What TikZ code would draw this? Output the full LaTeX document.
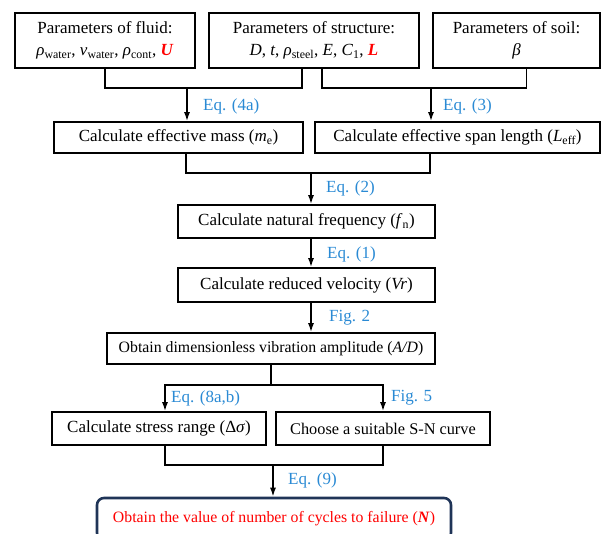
\documentclass[tikz,border=0pt]{standalone}
\usepackage{fontspec}
\setmainfont{Liberation Serif}
\usetikzlibrary{arrows.meta}
\definecolor{eqblue}{HTML}{2A8AD4}
\definecolor{navy}{HTML}{1F3457}
\newcommand{\vi}[1]{\textit{#1}}
\newcommand{\sub}[1]{\textsubscript{#1}}

\begin{document}
\begin{tikzpicture}[
    x=1pt, y=-1pt,
    box/.style={rectangle, draw, line width=1.6pt, inner sep=0pt,
                align=center, font=\fontsize{17}{22}\selectfont},
    lbl/.style={text=eqblue, font=\fontsize{17}{21}\selectfont, anchor=west},
    arr/.style={-{Latex[length=9pt,width=6pt]}, line width=1.6pt},
    ln/.style={line width=1.6pt}
]
    \useasboundingbox (0,0) rectangle (602,534);
    \clip (0,0) rectangle (602,534);

    \node[box, minimum width=180pt, minimum height=55pt] (fluid) at (105,40.5)
        {Parameters of fluid:\\\vi{ρ}\sub{water}, \vi{v}\sub{water}, \vi{ρ}\sub{cont}, \textcolor{red}{\textbf{\textit{U}}}};
    \node[box, minimum width=210pt, minimum height=55pt] (struct) at (314,40.5)
        {Parameters of structure:\\\vi{D}, \vi{t}, \vi{ρ}\sub{steel}, \vi{E}, \vi{C}\sub{1}, \textcolor{red}{\textbf{\textit{L}}}};
    \node[box, minimum width=167pt, minimum height=55pt] (soil) at (516.5,40.5)
        {Parameters of soil:\\\vi{β}};

    \node[box, minimum width=249pt, minimum height=31pt] (mass) at (178.5,137.5)
        {Calculate effective mass (\vi{m}\sub{e})};
    \node[box, minimum width=285pt, minimum height=31pt] (span) at (457.5,137.5)
        {Calculate effective span length (\vi{L}\sub{eff})};

    \node[box, minimum width=257pt, minimum height=33pt] (freq) at (306.5,221.5)
        {Calculate natural frequency (\vi{f}\sub{n})};
    \node[box, minimum width=257pt, minimum height=34pt] (vel) at (306.5,285)
        {Calculate reduced velocity (\vi{Vr})};
    \node[box, minimum width=328pt, minimum height=31pt, font=\fontsize{15.8}{20}\selectfont] (amp) at (271,348.5)
        {Obtain dimensionless vibration amplitude (\vi{A/D})};

    \node[box, minimum width=214pt, minimum height=33pt] (stress) at (159,428.5)
        {Calculate stress range (Δ\vi{σ})};
    \node[box, minimum width=214pt, minimum height=33pt, font=\fontsize{16.3}{20}\selectfont] (sn) at (383,428.5)
        {Choose a suitable S-N curve};

    \node[box, draw=navy, line width=2.6pt, rounded corners=7pt,
          minimum width=354pt, minimum height=42pt, text=red,
          font=\fontsize{15.8}{20}\selectfont] (result) at (274,519)
        {Obtain the value of number of cycles to failure (\textbf{\textit{N}})};

    % joints
    \coordinate (j1) at (187,88);
    \coordinate (j2) at (431,88);
    \coordinate (j3) at (311,173);
    \coordinate (j4) at (271,385);
    \coordinate (j5) at (273,465);

    \draw[ln] (fluid.south) |- ([xshift=-12pt]struct.south |- j1) -- ([xshift=-12pt]struct.south);
    \draw[ln] ([xshift=8pt]struct.south) |- ([xshift=10pt]soil.south |- j2) -- ([xshift=10pt]soil.south);
    \draw[arr] (j1) -- (j1 |- mass.north) node[lbl, pos=0.55, xshift=12pt] {Eq. (4a)};
    \draw[arr] (j2) -- (j2 |- span.north) node[lbl, pos=0.55, xshift=8pt] {Eq. (3)};

    \draw[ln] ([xshift=7.5pt]mass.south) |- (j3) -| ([xshift=-27.5pt]span.south);
    \draw[arr] (j3) -- (j3 |- freq.north) node[lbl, pos=0.5, xshift=11pt] {Eq. (2)};
    \draw[arr] (freq.south -| j3) -- (j3 |- vel.north) node[lbl, pos=0.55, xshift=12pt] {Eq. (1)};
    \draw[arr] (vel.south -| j3) -- (j3 |- amp.north) node[lbl, pos=0.5, xshift=14pt] {Fig. 2};

    \draw[ln] (amp.south) -- (j4);
    \draw[arr] (j4) -| ([xshift=6pt]stress.north) node[lbl, pos=0.75, xshift=2pt] {Eq. (8a,b)};
    \draw[arr] (j4) -| (sn.north) node[lbl, pos=0.75, xshift=4pt] {Fig. 5};

    \draw[ln] ([xshift=6pt]stress.south) |- (j5) -| (sn.south);
    \draw[arr] (j5) -- (j5 |- result.north) node[lbl, pos=0.5, xshift=11pt] {Eq. (9)};
\end{tikzpicture}
\end{document}
